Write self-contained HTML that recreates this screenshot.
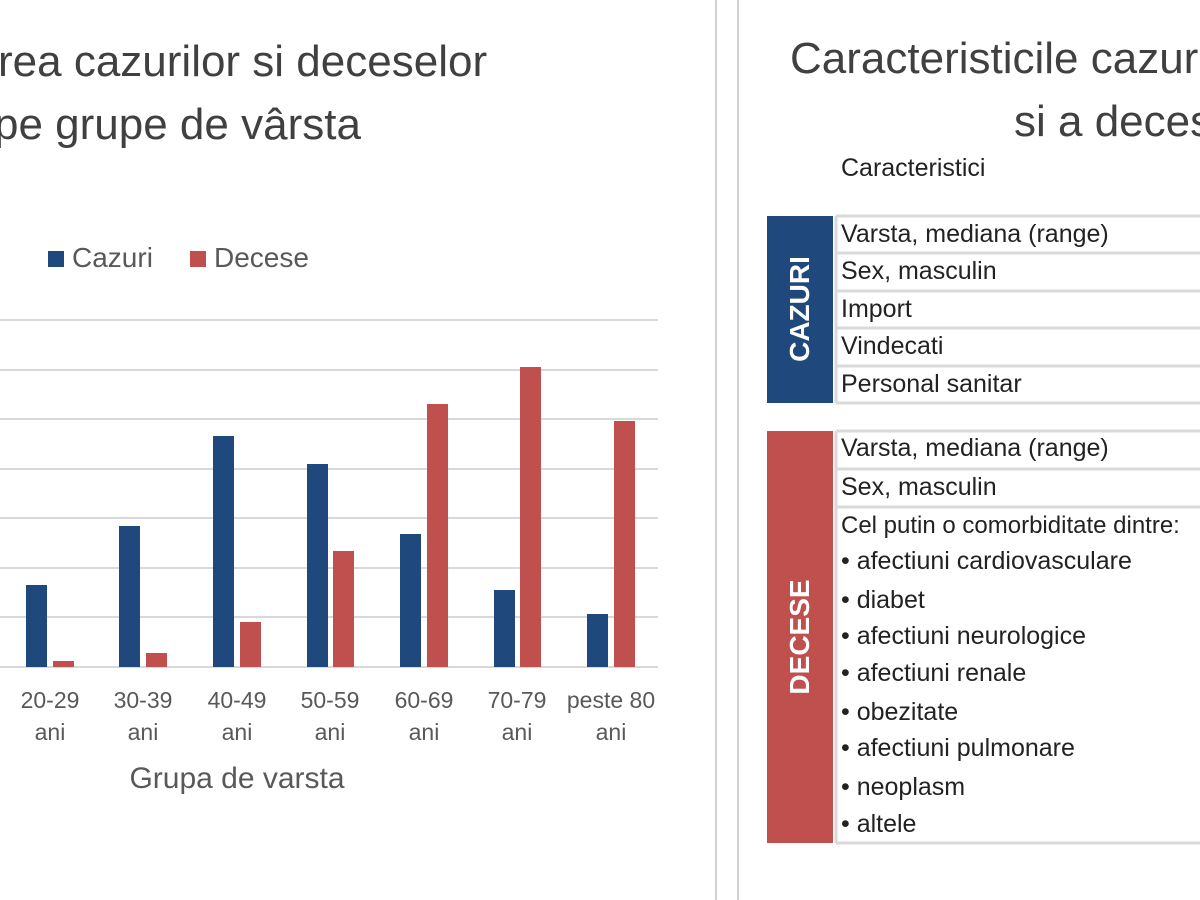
<!DOCTYPE html>
<html><head><meta charset="utf-8"><style>
body{margin:0;width:1200px;height:900px;background:#fff;overflow:hidden;position:relative;font-family:"Liberation Sans","DejaVu Sans",sans-serif;color:#595959}
.a{position:absolute;white-space:nowrap}
.t{color:#222;font-size:25px}
</style></head><body>
<div class="a" style="left:-2px;top:37px;font-size:44px;color:#404040">rea cazurilor si deceselor</div>
<div class="a" style="left:-6px;top:100px;font-size:44px;color:#404040">pe grupe de vârsta</div>
<div class="a" style="left:48px;top:242px;font-size:28px;color:#595959"><span style="display:inline-block;width:16px;height:16px;background:#1f497d;margin-right:8px"></span>Cazuri</div>
<div class="a" style="left:190px;top:242px;font-size:28px;color:#595959"><span style="display:inline-block;width:16px;height:16px;background:#c0504d;margin-right:8px"></span>Decese</div>
<svg class="a" style="left:0;top:0" width="740" height="900">
<g stroke="#d9d9d9" stroke-width="2">
<line x1="0" x2="658" y1="320" y2="320"/><line x1="0" x2="658" y1="370" y2="370"/><line x1="0" x2="658" y1="419" y2="419"/><line x1="0" x2="658" y1="469" y2="469"/><line x1="0" x2="658" y1="518" y2="518"/><line x1="0" x2="658" y1="568" y2="568"/><line x1="0" x2="658" y1="617" y2="617"/><line x1="0" x2="658" y1="667" y2="667"/>
</g>
<g fill="#1f497d">
<rect x="26" y="585" width="21" height="82"/><rect x="119" y="526" width="21" height="141"/><rect x="213" y="436" width="21" height="231"/><rect x="307" y="464" width="21" height="203"/><rect x="400" y="534" width="21" height="133"/><rect x="494" y="590" width="21" height="77"/><rect x="587" y="614" width="21" height="53"/>
</g>
<g fill="#c0504d">
<rect x="53" y="661" width="21" height="6"/><rect x="146" y="653" width="21" height="14"/><rect x="240" y="622" width="21" height="45"/><rect x="333" y="551" width="21" height="116"/><rect x="427" y="404" width="21" height="263"/><rect x="520" y="367" width="21" height="300"/><rect x="614" y="421" width="21" height="246"/>
</g>
<g font-size="23" fill="#595959" text-anchor="middle" font-family="Liberation Sans, sans-serif">
<text x="50" y="708">20-29</text><text x="50" y="740">ani</text>
<text x="143" y="708">30-39</text><text x="143" y="740">ani</text>
<text x="237" y="708">40-49</text><text x="237" y="740">ani</text>
<text x="330" y="708">50-59</text><text x="330" y="740">ani</text>
<text x="424" y="708">60-69</text><text x="424" y="740">ani</text>
<text x="517" y="708">70-79</text><text x="517" y="740">ani</text>
<text x="611" y="708">peste 80</text><text x="611" y="740">ani</text>
<text x="237" y="788" font-size="30">Grupa de varsta</text>
</g>
<line x1="716" x2="716" y1="0" y2="900" stroke="#d0d0d0" stroke-width="2"/>
</svg>
<div class="a" style="left:737px;top:0;width:2px;height:900px;background:#d0d0d0"></div>
<div class="a" style="left:790px;top:34px;font-size:44px;color:#404040">Caracteristicile cazur</div>
<div class="a" style="left:1014px;top:97px;font-size:44px;color:#404040">si a deces</div>
<div class="a t" style="left:841px;top:154px;font-size:25px">Caracteristici</div>
<div class="a" style="left:767px;top:216px;width:66px;height:187px;background:#1f497d"></div>
<div class="a" style="left:800px;top:309px;transform:translate(-50%,-50%) rotate(-90deg);color:#fff;font-weight:bold;font-size:28px">CAZURI</div>
<div class="a" style="left:767px;top:431px;width:66px;height:412px;background:#c0504d"></div>
<div class="a" style="left:800px;top:637px;transform:translate(-50%,-50%) rotate(-90deg);color:#fff;font-weight:bold;font-size:28px">DECESE</div>
<svg class="a" style="left:0;top:0" width="1200" height="900"><g stroke="#d9d9d9" stroke-width="3">
<line x1="836" x2="1200" y1="216" y2="216"/><line x1="836" x2="1200" y1="253" y2="253"/><line x1="836" x2="1200" y1="291" y2="291"/><line x1="836" x2="1200" y1="328" y2="328"/><line x1="836" x2="1200" y1="366" y2="366"/><line x1="836" x2="1200" y1="403" y2="403"/>
<line x1="836" x2="1200" y1="431" y2="431"/><line x1="836" x2="1200" y1="469" y2="469"/><line x1="836" x2="1200" y1="507" y2="507"/><line x1="836" x2="1200" y1="843" y2="843"/>
<line x1="836" x2="836" y1="216" y2="403"/><line x1="836" x2="836" y1="431" y2="843"/>
</g></svg>
<div class="a t" style="left:841px;top:220px">Varsta, mediana (range)</div>
<div class="a t" style="left:841px;top:257px">Sex, masculin</div>
<div class="a t" style="left:841px;top:295px">Import</div>
<div class="a t" style="left:841px;top:332px">Vindecati</div>
<div class="a t" style="left:841px;top:370px">Personal sanitar</div>
<div class="a t" style="left:841px;top:434px">Varsta, mediana (range)</div>
<div class="a t" style="left:841px;top:473px">Sex, masculin</div>
<div class="a t" style="left:841px;top:512px;font-size:24px">Cel putin o comorbiditate dintre:</div>
<div class="a t" style="left:841px;top:547px">• afectiuni cardiovasculare</div>
<div class="a t" style="left:841px;top:586px">• diabet</div>
<div class="a t" style="left:841px;top:622px">• afectiuni neurologice</div>
<div class="a t" style="left:841px;top:659px">• afectiuni renale</div>
<div class="a t" style="left:841px;top:698px">• obezitate</div>
<div class="a t" style="left:841px;top:734px">• afectiuni pulmonare</div>
<div class="a t" style="left:841px;top:773px">• neoplasm</div>
<div class="a t" style="left:841px;top:810px">• altele</div>
</body></html>
